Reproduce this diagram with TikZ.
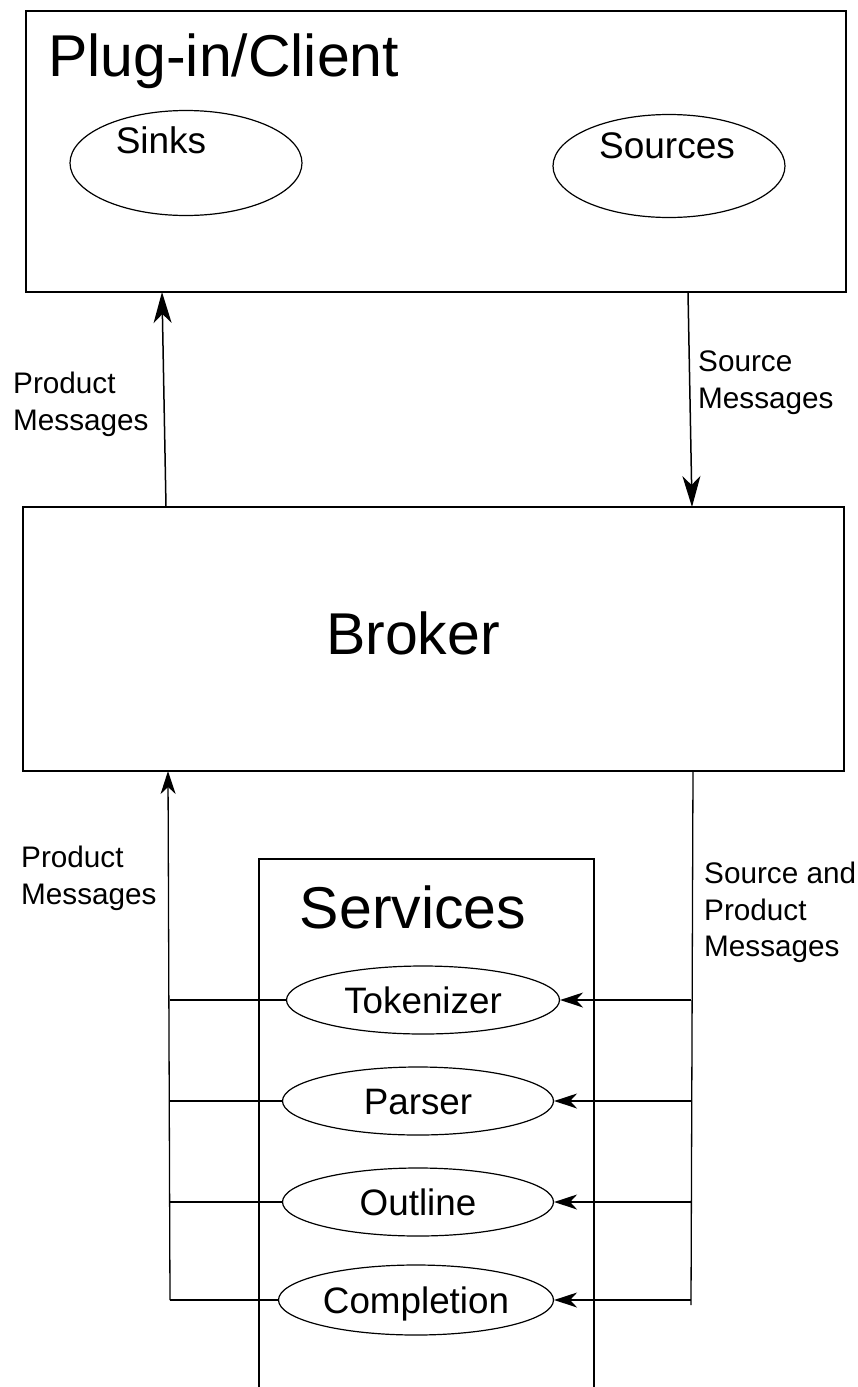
\documentclass[tikz,border=0pt]{standalone}
\usepackage{fontspec}
\setmainfont{Liberation Sans}
\usetikzlibrary{shapes.geometric,arrows.meta}
\begin{document}
\begin{tikzpicture}[x=1pt,y=-1pt,
  box/.style={draw, rectangle, line width=1.5pt, inner sep=0pt},
  ell/.style={draw, ellipse, line width=1.2pt, inner sep=0pt, fill=white},
  svc/.style={ell, font=\fontsize{36.8}{44}\selectfont, text height=26.5pt, text depth=0pt},
  big/.style={font=\fontsize{59}{70}\selectfont, inner sep=0pt},
  mid/.style={font=\fontsize{37}{44}\selectfont, inner sep=0pt},
  lab/.style={font=\fontsize{29.7}{36.5}\selectfont, align=left, anchor=north west, inner sep=0pt},
  wire/.style={line width=1.3pt},
  arrB/.style={line width=1.5pt, -{Stealth[length=31pt,width=18pt,inset=9pt]}},
  arrS/.style={line width=1.3pt, -{Stealth[length=23pt,width=15pt,inset=7pt]}}
]
\useasboundingbox (0,0) rectangle (858,1387);
\clip (0,0) rectangle (858,1387);

% Plug-in / Client
\node[box, minimum width=820pt, minimum height=281pt] (client) at (436,151.5) {};
\node[big, anchor=base west] (ctitle) at (48,76) {Plug-in/Client};
\node[ell, minimum width=232pt, minimum height=105pt] (sinks) at (186,163) {};
\node[mid, anchor=base] (sinkst) at (161,153) {Sinks};
\node[ell, minimum width=232pt, minimum height=103pt] (sources) at (669,166) {};
\node[mid, anchor=base] (sourcest) at (667,158) {Sources};

% Broker
\node[box, minimum width=821pt, minimum height=264pt] (broker) at (433.5,639) {};
\node[big, anchor=base] (btitle) at (413,654) {Broker};

% Services
\node[box, minimum width=335pt, minimum height=700pt, anchor=north] (services) at (426.5,858) {};
\node[big, anchor=base] (stitle) at (413,928) {Services};

\node[svc, minimum width=273pt, minimum height=68pt] (tok) at (423,1000) {Tokenizer};
\node[svc, minimum width=271pt, minimum height=68pt] (par) at (418,1101) {Parser};
\node[svc, minimum width=271pt, minimum height=68pt] (out) at (418,1202) {Outline};
\node[svc, minimum width=275pt, minimum height=70pt] (com) at (416,1300) {Completion};

% labels
\node[lab] (l1) at (13,372) {Product\\Messages};
\node[lab] (l2) at (698,351) {Source\\Messages};
\node[lab] (l3) at (21,846) {Product\\Messages};
\node[lab] (l4) at (704,862) {Source and\\Product\\Messages};

% coordinates on box edges
\coordinate (bt1) at (166,507);
\coordinate (ct1) at (162,292);
\coordinate (ct2) at (688,292);
\coordinate (bt2) at (692,507);
\coordinate (bb1) at (168,771);
\coordinate (lb) at (170,1300);
\coordinate (bb2) at (693,771);
\coordinate (rb) at (691,1305);

% client <-> broker
\draw[arrB] (bt1) -- (ct1);
\draw[arrB] (ct2) -- (bt2);

% left bus (products up)
\draw[arrS] (lb) -- (bb1);
\draw[wire] (tok.west) -- (tok.west -| lb);
\draw[wire] (par.west) -- (par.west -| lb);
\draw[wire] (out.west) -- (out.west -| lb);
\draw[wire] (com.west) -- (lb);

% right bus (messages down)
\draw[wire] (bb2) -- (rb);
\draw[arrS] (tok.east -| rb) -- (tok.east);
\draw[arrS] (par.east -| rb) -- (par.east);
\draw[arrS] (out.east -| rb) -- (out.east);
\draw[arrS] (com.east -| rb) -- (com.east);
\end{tikzpicture}
\end{document}
